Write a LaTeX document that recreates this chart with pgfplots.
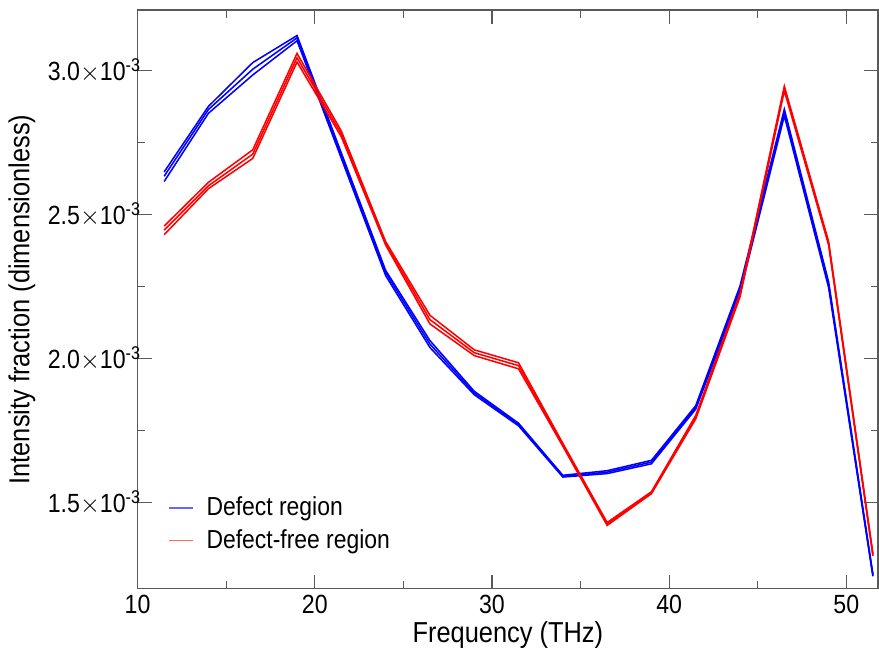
\documentclass[border=0pt]{standalone}
\usepackage{fontspec}
\setmainfont{Liberation Sans}[FakeStretch=0.88]
\usepackage{pgfplots}
\pgfplotsset{compat=1.18}

\definecolor{defectblue}{RGB}{0,0,255}
\definecolor{freered}{RGB}{255,0,0}

\begin{document}
\begin{tikzpicture}
\begin{axis}[
    scale only axis,
    width=290pt, height=226.5pt,
    xmin=10, xmax=51.8,
    ymin=1.2e-3, ymax=3.21e-3,
    xtick={10,20,30,40,50},
    minor x tick num=1,
    ytick={1.5e-3,2.0e-3,2.5e-3,3.0e-3},
    yticklabels={1.5$\times$10\textsuperscript{-3},2.0$\times$10\textsuperscript{-3},2.5$\times$10\textsuperscript{-3},3.0$\times$10\textsuperscript{-3}},
    minor y tick num=1,
    scaled y ticks=false,
    /pgf/number format/assume math mode=true,
    tick align=inside,
    major tick length=5.5pt,
    minor tick length=3pt,
    axis line style={draw=black!65, line width=0.6pt},
    every tick/.style={black!65, line width=0.5pt},
    tick label style={font=\fontsize{10.3}{12}\selectfont},
    yticklabel style={xshift=5pt},
    xticklabel style={yshift=1pt},
    label style={font=\fontsize{11.3}{13}\selectfont},
    xlabel={Frequency (THz)},
    ylabel={Intensity fraction (dimensionless)},
    xlabel style={yshift=4pt},
    ylabel style={yshift=-2pt},
    legend style={draw=none, fill=none, at={(0.03,0.045)}, anchor=south west,
        font=\fontsize{10.2}{11}\selectfont, row sep=0pt, column sep=3pt},
    legend cell align=left,
    legend image code/.code={\draw[#1] (0cm,0cm) -- (0.33cm,0cm);},
    every axis plot/.append style={line width=0.6pt, forget plot},
    extra description/.code={\path (rel axis cs:0,1) ++(0,4pt);},
]
% defect region
\addplot[defectblue] coordinates {
(11.5,2.633e-3) (14,2.865e-3) (16.5,3.005e-3) (19,3.114e-3) (21.5,2.706e-3) (24,2.298e-3)
(26.5,2.050e-3) (29,1.880e-3) (31.5,1.770e-3) (34,1.590e-3) (36.5,1.605e-3) (39,1.640e-3)
(41.5,1.830e-3) (44,2.240e-3) (46.5,2.855e-3) (49,2.256e-3) (51.5,1.245e-3)};
\addplot[defectblue] coordinates {
(11.5,2.615e-3) (14,2.852e-3) (16.5,2.985e-3) (19,3.104e-3) (21.5,2.695e-3) (24,2.288e-3)
(26.5,2.038e-3) (29,1.874e-3) (31.5,1.766e-3) (34,1.588e-3) (36.5,1.600e-3) (39,1.634e-3)
(41.5,1.824e-3) (44,2.228e-3) (46.5,2.843e-3) (49,2.246e-3) (51.5,1.243e-3)};
\addplot[defectblue] coordinates {
(11.5,2.648e-3) (14,2.876e-3) (16.5,3.028e-3) (19,3.122e-3) (21.5,2.714e-3) (24,2.306e-3)
(26.5,2.062e-3) (29,1.886e-3) (31.5,1.775e-3) (34,1.594e-3) (36.5,1.610e-3) (39,1.646e-3)
(41.5,1.836e-3) (44,2.252e-3) (46.5,2.866e-3) (49,2.266e-3) (51.5,1.250e-3)};
% defect-free region
\addplot[freered] coordinates {
(11.5,2.446e-3) (14,2.600e-3) (16.5,2.710e-3) (19,3.045e-3) (21.5,2.780e-3) (24,2.400e-3)
(26.5,2.135e-3) (29,2.020e-3) (31.5,1.975e-3) (34,1.700e-3) (36.5,1.425e-3) (39,1.533e-3)
(41.5,1.797e-3) (44,2.220e-3) (46.5,2.940e-3) (49,2.400e-3) (51.5,1.318e-3)};
\addplot[freered] coordinates {
(11.5,2.430e-3) (14,2.590e-3) (16.5,2.695e-3) (19,3.030e-3) (21.5,2.770e-3) (24,2.394e-3)
(26.5,2.120e-3) (29,2.010e-3) (31.5,1.964e-3) (34,1.695e-3) (36.5,1.420e-3) (39,1.530e-3)
(41.5,1.790e-3) (44,2.214e-3) (46.5,2.930e-3) (49,2.394e-3) (51.5,1.314e-3)};
\addplot[freered] coordinates {
(11.5,2.460e-3) (14,2.612e-3) (16.5,2.725e-3) (19,3.060e-3) (21.5,2.790e-3) (24,2.406e-3)
(26.5,2.150e-3) (29,2.030e-3) (31.5,1.985e-3) (34,1.705e-3) (36.5,1.430e-3) (39,1.537e-3)
(41.5,1.802e-3) (44,2.226e-3) (46.5,2.946e-3) (49,2.406e-3) (51.5,1.320e-3)};
\addlegendimage{blue!60, line width=0.7pt}
\addlegendentry{Defect region}
\addlegendimage{red!60, line width=0.7pt}
\addlegendentry{Defect-free region}
\end{axis}
\end{tikzpicture}
\end{document}
